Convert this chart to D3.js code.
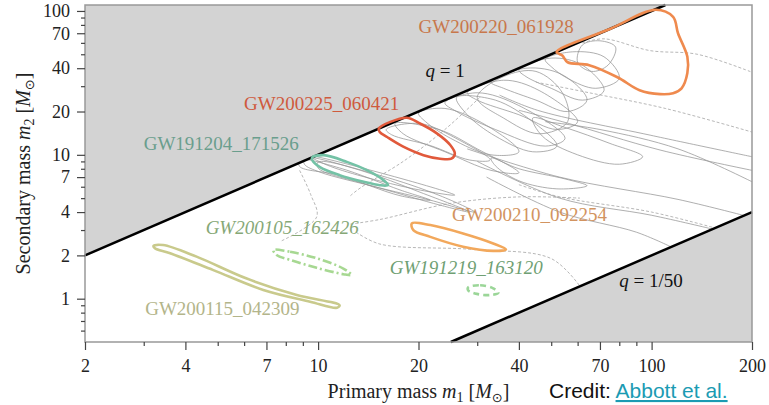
<!DOCTYPE html>
<html lang="en">
<head>
<meta charset="UTF-8"/>
<title>Compact binary masses</title>
<script src="https://d3js.org/d3.v7.min.js" charset="utf-8"></script>
<style type="text/css">
    body { margin: 0; background: #fff; }
    text { font-family: "Liberation Serif", "DejaVu Serif", serif; }
    .tick text { font-size: 18px; fill: #222; }
    .credit { font-family: "Liberation Sans", Arial, sans-serif; font-size: 21px; }
</style>
</head>
<body>
<div id="chart"></div>
<script type="text/javascript">

// axis ticks
var xTicks = [2, 4, 7, 10, 20, 40, 70, 100, 200];
var xMinor = [3, 5, 6, 8, 9, 30, 50, 60, 80, 90];
var yTicks = [1, 2, 4, 7, 10, 20, 40, 70, 100];
var yMinor = [0.6, 0.7, 0.8, 0.9, 3, 5, 6, 8, 9, 30, 50, 60, 80, 90];

// mass ratio boundaries
var qLines = [1, 1 / 50];

// highlighted events, contour outlines as [m1, m2] in solar masses
var gw200220 = [[51.9, 51.9], [75, 75], [103, 102], [116, 91], [120, 70], [128, 48], [128, 37], [123, 29],
    [116, 26.8], [106, 26.4], [92, 28.1], [79, 34.6], [65, 42], [56, 44], [54, 49]];
var gw200225 = [[15.2, 15.2], [18.4, 18.1], [20.2, 16.5], [22.7, 14.1], [24.9, 11.7], [25.7, 10.2], [25.1, 9.4],
    [23.2, 9.4], [20.7, 9.95], [18.0, 11.4], [16.1, 13.3], [15.3, 14.4]];
var gw191204 = [[9.6, 9.6], [10.4, 9.95], [12.2, 8.93], [14.0, 7.82], [15.7, 6.67], [16.2, 6.15], [15.3, 6.15],
    [13.7, 6.49], [11.6, 7.22], [10.1, 8.25], [9.6, 9.2]];
var gw200115 = [[3.21, 2.33], [3.43, 2.36], [4.32, 1.96], [6.11, 1.38], [8.63, 1.06], [11.6, 0.90], [11.4, 0.865],
    [9.46, 0.953], [6.85, 1.15], [4.85, 1.58], [3.60, 2.07], [3.24, 2.24]];
var gw200105 = [[7.34, 2.18], [8.24, 2.12], [9.90, 1.91], [11.9, 1.62], [12.6, 1.46], [11.9, 1.48], [9.90, 1.64],
    [8.24, 1.86], [7.51, 2.01]];
var gw200210 = [[19.1, 3.34], [21.7, 3.25], [27.2, 2.84], [33.5, 2.42], [36.6, 2.20], [33.5, 2.15], [27.2, 2.30],
    [21.7, 2.69], [19.3, 3.00]];
var gw191219 = [[28.2, 1.20], [30.6, 1.24], [33.5, 1.18], [34.7, 1.10], [32.8, 1.06], [29.9, 1.08], [28.2, 1.14]];

// other events in grey (closed loops)
var greyLoops = [
    [[8.8, 9.2], [11.6, 8.1], [17.6, 5.7], [21.7, 4.84], [17.6, 5.2], [11.6, 7.2], [8.8, 8.3]],
    [[9.1, 9.5], [13.4, 7.8], [20.2, 5.5], [28.5, 4.0], [23.2, 4.47], [15.3, 5.87], [10.1, 7.6], [9.1, 8.6]],
    [[9.46, 9.8], [17.6, 6.88], [25.7, 5.25], [18.9, 5.87], [10.9, 8.3]],
    [[10.0, 8.9], [15.3, 7.2], [23.2, 5.2], [29.5, 4.0], [21.7, 4.84], [13.4, 6.4], [10.0, 8.1]],
    [[16, 15], [20.2, 16.5], [26.6, 12.6], [32.8, 9.2], [28.5, 9.2], [21.7, 11.6], [16.6, 13.8]],
    [[17, 16.5], [23, 15], [30, 11], [40, 7.5], [33, 7.8], [24, 10.5], [18, 14]],
    [[20, 19.5], [24, 21], [32, 16], [40, 10.5], [33, 10], [25, 13], [21, 17]],
    [[24, 23], [30, 27], [40, 22], [55, 13], [48, 11.5], [34, 15], [26, 20]],
    [[28, 27], [36, 33], [46, 28], [60, 17], [52, 15], [40, 19], [30, 24]],
    [[33, 32], [42, 40], [54, 36], [64, 24], [56, 20], [45, 24], [36, 29]],
    [[40, 39], [50, 47], [62, 42], [72, 28], [62, 24], [50, 29], [42, 35]],
    [[48, 46], [58, 52], [72, 48], [80, 34], [68, 29], [56, 34], [50, 41]],
    [[36, 35], [45, 38], [54, 27], [56, 17], [46, 14], [36, 18], [30, 25]],
    [[26, 25], [34, 24], [44, 17], [52, 11.5], [44, 10.5], [34, 13.5], [28, 19]],
    [[62, 58], [70, 62], [78, 56], [74, 42], [66, 38], [60, 44]],
    [[44, 18], [55, 15.5], [75, 12], [94, 9.7], [80, 8.6], [60, 10], [47, 13.5]],
    [[33, 9.5], [40, 8], [55, 6.8], [64, 6.1], [52, 5.8], [40, 6.6], [34, 8.4]]
];

// grey contours running out of the plot or into q = 1/50
var greyLines = [
    [[35, 26], [45.5, 20.4], [99, 13.7], [200, 9.7]],
    [[40, 20.4], [55.5, 16.7], [106, 10.8], [200, 7.8]],
    [[48, 17], [70, 15], [120, 11], [200, 6.5]],
    [[28, 11], [53, 7], [120, 4.9], [188, 3.8]],
    [[30, 9], [53, 5], [100, 3.8], [152, 3.05]],
    [[32, 7], [53, 4], [90, 2.9], [114, 2.3]]
];
var greyDashed = [
    [[62, 60], [72, 64], [99, 53], [137, 50], [200, 37.5]],
    [[45, 32], [65, 27], [110, 21], [200, 14.4]],
    [[40, 6.2], [53, 5.1], [100, 4.0], [155, 3.1]],
    [[12.5, 5.2], [13.4, 5.9], [18, 9], [24, 15], [30.5, 25]],
    [[8.8, 7.8], [9.5, 5.3], [9.9, 3.7], [7.7, 2.5]],
    [[12.5, 3.3], [15.3, 3.55], [25, 4.6], [40, 5.1], [61, 5.0]],
    [[13, 2.9], [15.3, 2.4], [29, 2.2], [50, 1.9], [61, 1.22]]
];

var margin = {top: 5, right: 17, bottom: 63, left: 85},
    width = 769 - margin.left - margin.right,
    height = 405 - margin.top - margin.bottom;

var svg = d3.select("#chart")
    .append("svg")
    .attr("width", width + margin.left + margin.right)
    .attr("height", height + margin.top + margin.bottom);

var g = svg.append("g")
    .attr("transform", "translate(" + margin.left + "," + margin.top + ")");

var x = d3.scaleLog().domain([2, 200]).range([0, width]);
var y = d3.scaleLog().domain([0.5, 110]).range([height, 0]);
var xMin = 2, xMax = 200, yMin = 0.5, yMax = 110;

// shaded forbidden regions
var upper = [[xMin, xMin * qLines[0]], [xMin, yMax], [yMax / qLines[0], yMax]];
var lower = [[yMin / qLines[1], yMin], [xMax, xMax * qLines[1]], [xMax, yMin]];
var poly = d3.line().x(function (d) { return x(d[0]); }).y(function (d) { return y(d[1]); });

g.append("path").attr("d", poly(upper) + "Z").attr("fill", "#d3d3d3");
g.append("path").attr("d", poly(lower) + "Z").attr("fill", "#d3d3d3");

// clip grey contours to allowed region
var allowed = [[xMin, yMin], [xMin, xMin * qLines[0]], [yMax / qLines[0], yMax], [xMax, yMax],
    [xMax, xMax * qLines[1]], [yMin / qLines[1], yMin]];
svg.append("defs").append("clipPath").attr("id", "allowed")
    .append("path").attr("d", poly(allowed) + "Z");

var loop = d3.line().x(function (d) { return x(d[0]); }).y(function (d) { return y(d[1]); })
    .curve(d3.curveCatmullRomClosed.alpha(0.5));
var open = d3.line().x(function (d) { return x(d[0]); }).y(function (d) { return y(d[1]); })
    .curve(d3.curveCatmullRom.alpha(0.5));

var greys = g.append("g").attr("clip-path", "url(#allowed)").attr("fill", "none");
greys.selectAll(".gl").data(greyLoops).enter().append("path")
    .attr("d", loop).attr("stroke", "#949494").attr("stroke-width", 0.75);
greys.selectAll(".gs").data(greyLines).enter().append("path")
    .attr("d", open).attr("stroke", "#949494").attr("stroke-width", 0.75);
greys.selectAll(".gd").data(greyDashed).enter().append("path")
    .attr("d", open).attr("stroke", "#a4a4a4").attr("stroke-width", 0.8)
    .attr("stroke-dasharray", "3,2");

// q lines
g.append("path").attr("d", poly([upper[0], upper[2]])).attr("stroke", "#000").attr("stroke-width", 2.5);
g.append("path").attr("d", poly([lower[0], lower[1]])).attr("stroke", "#000").attr("stroke-width", 2.5);

// highlighted events
var events = [
    {pts: gw200220, color: "#ef8a4e", dash: null},
    {pts: gw200225, color: "#e1593b", dash: null},
    {pts: gw191204, color: "#74c2a6", dash: null},
    {pts: gw200115, color: "#c9ca8c", dash: null},
    {pts: gw200105, color: "#a7d892", dash: "9,3,2,3"},
    {pts: gw200210, color: "#f2a85c", dash: null},
    {pts: gw191219, color: "#9bd698", dash: "6,4"}
];
g.selectAll(".ev").data(events).enter().append("path")
    .attr("d", function (d) { return loop(d.pts); })
    .attr("fill", "none")
    .attr("stroke", function (d) { return d.color; })
    .attr("stroke-width", 2.6)
    .attr("stroke-dasharray", function (d) { return d.dash; });

// frame
g.append("rect").attr("width", width).attr("height", height)
    .attr("fill", "none").attr("stroke", "#999").attr("stroke-width", 1.5);

// axes
g.append("g").attr("transform", "translate(0," + height + ")")
    .call(d3.axisBottom(x).tickValues(xTicks).tickFormat(d3.format("d")).tickSize(8).tickPadding(9));
g.append("g").attr("transform", "translate(0," + height + ")")
    .call(d3.axisBottom(x).tickValues(xMinor).tickFormat("").tickSize(4));
g.append("g")
    .call(d3.axisLeft(y).tickValues(yTicks).tickFormat(d3.format("d")).tickSize(8).tickPadding(7));
g.append("g")
    .call(d3.axisLeft(y).tickValues(yMinor).tickFormat("").tickSize(4));
g.selectAll(".domain").remove();
g.selectAll(".tick line").attr("stroke", "#444").attr("stroke-width", 1.2);
g.selectAll(".tick text").attr("font-family", null);

// annotations
function label(m1, m2, txt, color, italic) {
    g.append("text").attr("x", x(m1)).attr("y", y(m2))
        .attr("fill", color).attr("font-size", 19)
        .attr("font-style", italic ? "italic" : null)
        .text(txt);
}
label(20, 70, "GW200220_061928", "#c8774b");
label(6.0, 20.4, "GW200225_060421", "#cf5a3d");
label(3.0, 10.8, "GW191204_171526", "#6a9e8d");
label(4.6, 2.8, "GW200105_162426", "#86a877", true);
label(25.2, 3.45, "GW200210_092254", "#d29460");
label(16.4, 1.49, "GW191219_163120", "#6f9f73", true);
label(3.03, 0.77, "GW200115_042309", "#b3b58a");

function qLabel(m1, m2, val) {
    var t = g.append("text").attr("x", x(m1)).attr("y", y(m2))
        .attr("fill", "#111").attr("font-size", 19);
    t.append("tspan").attr("font-style", "italic").text("q");
    t.append("tspan").text(" = " + val);
}
qLabel(21, 35, "1");
qLabel(80, 1.2, "1/50");

// axis titles
var xt = svg.append("text")
    .attr("x", margin.left + width / 2).attr("y", 398)
    .attr("text-anchor", "middle").attr("font-size", 20).attr("fill", "#222");
xt.append("tspan").text("Primary mass ");
xt.append("tspan").attr("font-style", "italic").text("m");
xt.append("tspan").attr("font-size", 14).attr("dy", 4).text("1");
xt.append("tspan").attr("dy", -4).text(" [");
xt.append("tspan").attr("font-style", "italic").text("M");
xt.append("tspan").attr("font-size", 13).attr("dy", 4).attr("font-family", "DejaVu Sans").text("\u2299");
xt.append("tspan").attr("dy", -4).text("]");

var yt = svg.append("text")
    .attr("transform", "translate(30," + (margin.top + height / 2) + ") rotate(-90)")
    .attr("text-anchor", "middle").attr("font-size", 20).attr("fill", "#222");
yt.append("tspan").text("Secondary mass ");
yt.append("tspan").attr("font-style", "italic").text("m");
yt.append("tspan").attr("font-size", 14).attr("dy", 4).text("2");
yt.append("tspan").attr("dy", -4).text(" [");
yt.append("tspan").attr("font-style", "italic").text("M");
yt.append("tspan").attr("font-size", 13).attr("dy", 4).attr("font-family", "DejaVu Sans").text("\u2299");
yt.append("tspan").attr("dy", -4).text("]");

// credit line
var cr = svg.append("text").attr("class", "credit").attr("x", 549).attr("y", 398).attr("fill", "#111");
cr.append("tspan").text("Credit: ");
cr.append("tspan").attr("fill", "#1b9bb3").attr("text-decoration", "underline").text("Abbott et al.");

</script>
</body>
</html>
